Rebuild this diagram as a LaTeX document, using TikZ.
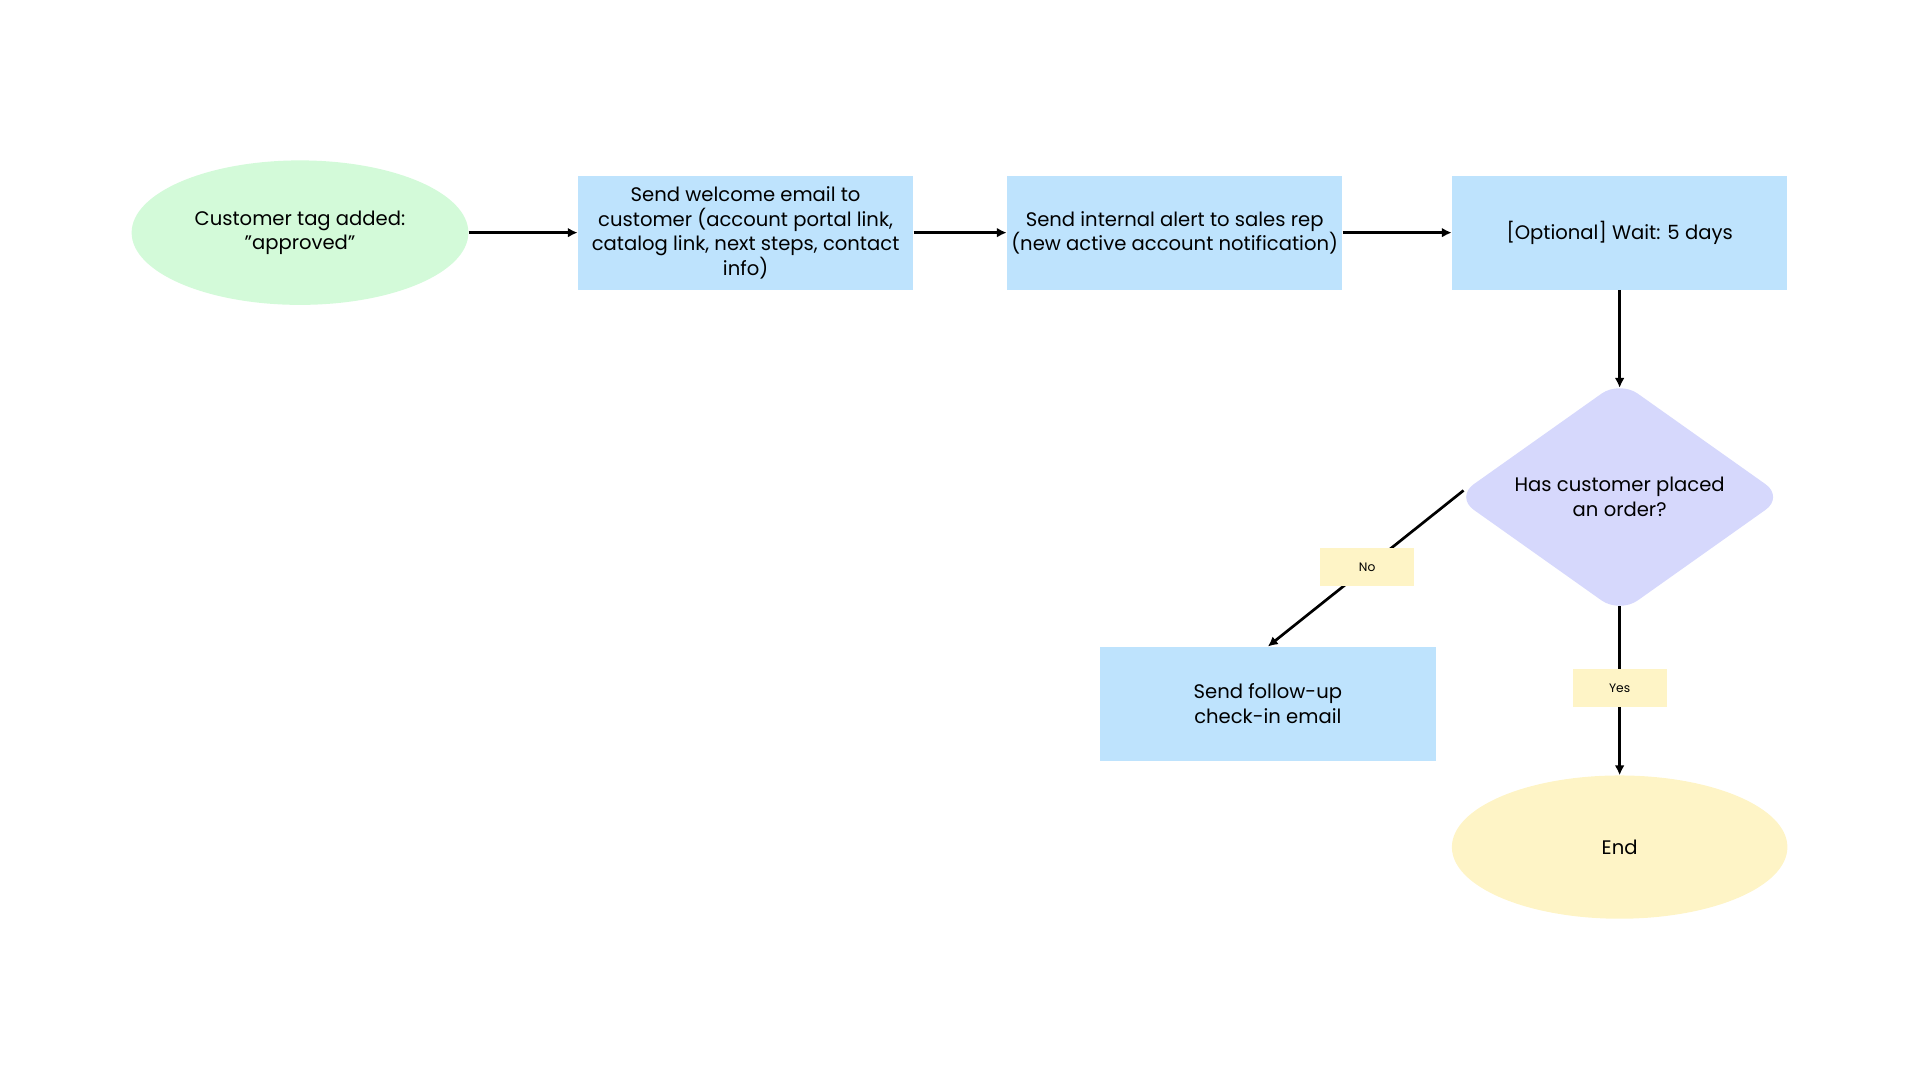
\documentclass[tikz,border=0pt]{standalone}
\usepackage{fontspec}
\setmainfont{Poppins}
\usetikzlibrary{shapes.geometric, positioning, arrows.meta}
\definecolor{mint}{HTML}{D3FAD9}
\definecolor{skyblue}{HTML}{BEE3FD}
\definecolor{lavender}{HTML}{D6D8FC}
\definecolor{butter}{HTML}{FEF4C6}

\begin{document}
\begin{tikzpicture}[>={Latex[length=8pt,width=8pt]},
    txt/.style={font=\fontsize{16}{20}\selectfont, align=center, inner sep=0pt},
    term/.style={txt, ellipse, minimum width=275pt, minimum height=118pt},
    action/.style={txt, rectangle, fill=skyblue, minimum width=274pt, minimum height=93pt},
    decision/.style={txt, diamond, fill=lavender, aspect=1.41, minimum width=268pt, minimum height=190pt, rounded corners=18pt},
    tag/.style={fill=butter, font=\fontsize{10}{12}\selectfont, minimum width=77pt, minimum height=31pt, inner sep=0pt}]
    \useasboundingbox (-245pt,190pt) rectangle (1323pt,-692pt);

    \node[term, fill=mint] (start) at (0,0) {Customer tag added:\\\symbol{34}approved\symbol{34}};
    \node[action] (welcome) [right=89pt of start] {Send welcome email to\\customer (account portal link,\\catalog link, next steps, contact\\info)};
    \node[action] (alert) [right=76pt of welcome] {Send internal alert to sales rep\\(new active account notification)};
    \node[action] (wait) [right=89pt of alert] {[Optional] Wait: 5 days};
    \node[decision] (ordered) [below=74pt of wait] {Has customer placed\\an order?};
    \node[action] (followup) [below left=74.5pt and 83pt of ordered] {Send follow-up\\check-in email};
    \node[term, fill=butter, minimum width=274pt, minimum height=117pt] (finish) [below=132pt of ordered] {End};

    \path[->, line width=2.2pt]
    (start) edge (welcome)
    (welcome) edge (alert)
    (alert) edge (wait)
    (wait) edge [shorten >=-6pt] (ordered)
    (ordered.west) edge [shorten <=-8.6pt] node[tag, pos=0.47] {No} (followup.north)
    (ordered) edge [shorten <=-6pt] node[tag, pos=0.46] {Yes} (finish);

\end{tikzpicture}
\end{document}
